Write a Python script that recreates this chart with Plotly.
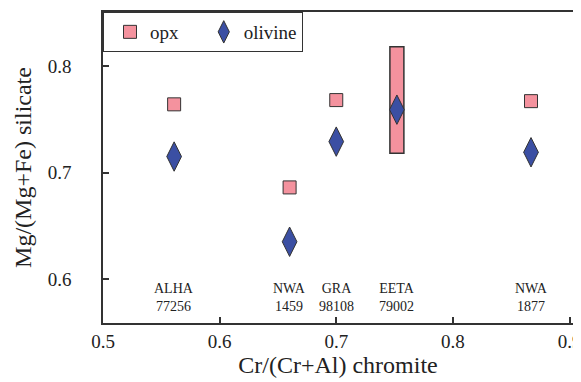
import plotly.graph_objects as go

names = ["ALHA<br>77256", "NWA<br>1459", "GRA<br>98108", "EETA<br>79002", "NWA<br>1877"]
cr_chromite = [0.561, 0.660, 0.700, 0.752, 0.867]
opx_mg = [0.764, 0.686, 0.768, None, 0.767]
olivine_mg = [0.715, 0.635, 0.729, 0.759, 0.719]
eeta_x = [0.752]
eeta_opx_low = [0.718]
eeta_opx_high = [0.818]
label_y = 0.583

pink = "#F4929E"
blue = "#3B4FA3"
edge = "#333333"
serif = "Liberation Serif, Times New Roman, DejaVu Serif, serif"

fig = go.Figure()
fig.add_trace(go.Bar(
    x=eeta_x, y=[h - l for h, l in zip(eeta_opx_high, eeta_opx_low)], base=eeta_opx_low,
    width=0.012, marker=dict(color=pink, line=dict(color=edge, width=1.5)),
    showlegend=False, hoverinfo="skip"))
fig.add_trace(go.Scatter(
    x=cr_chromite, y=opx_mg, mode="markers", name="opx\u00a0\u00a0\u00a0",
    marker=dict(symbol="square", size=13, color=pink, line=dict(color=edge, width=1))))
fig.add_trace(go.Scatter(
    x=cr_chromite, y=olivine_mg, mode="markers", name="olivine",
    marker=dict(symbol="diamond-tall", size=21, color=blue, line=dict(color=edge, width=1))))

for x, t in zip(cr_chromite, names):
    fig.add_annotation(x=x, y=label_y, text=t, showarrow=False,
                       font=dict(family=serif, size=14, color="#222"))

fig.update_layout(
    width=573, height=374,
    margin=dict(l=95, r=8, t=4, b=59),
    plot_bgcolor="white", paper_bgcolor="white",
    font=dict(family=serif, color="#222"),
    showlegend=True,
    legend=dict(x=0, y=1, xanchor="left", yanchor="top", orientation="h",
                bordercolor=edge, borderwidth=1, bgcolor="white",
                font=dict(family=serif, size=19), itemwidth=30,
                indentation=6, tracegroupgap=0),
    xaxis=dict(range=[0.5, 0.903], tickvals=[0.5, 0.6, 0.7, 0.8, 0.9],
               ticktext=["0.5", "0.6", "0.7", "0.8", "0.9"],
               showline=True, linecolor=edge, linewidth=1.5, mirror=True,
               ticks="inside", ticklen=6, tickwidth=1.5, tickcolor=edge,
               showgrid=False, zeroline=False, automargin=False,
               ticklabeloverflow="allow",
               tickfont=dict(family=serif, size=19),
               title=dict(text="Cr/(Cr+Al) chromite", font=dict(family=serif, size=24), standoff=4)),
    yaxis=dict(range=[0.5587, 0.8507], tickvals=[0.6, 0.7, 0.8],
               ticktext=["0.6", "0.7", "0.8"],
               showline=True, linecolor=edge, linewidth=1.5, mirror=True,
               ticks="inside", ticklen=6, tickwidth=1.5, tickcolor=edge,
               showgrid=False, zeroline=False, automargin=False,
               tickfont=dict(family=serif, size=19), ticklabelstandoff=26,
               title=dict(text="Mg/(Mg+Fe) silicate", font=dict(family=serif, size=24), standoff=9)),
)
fig.write_html("out.html")
